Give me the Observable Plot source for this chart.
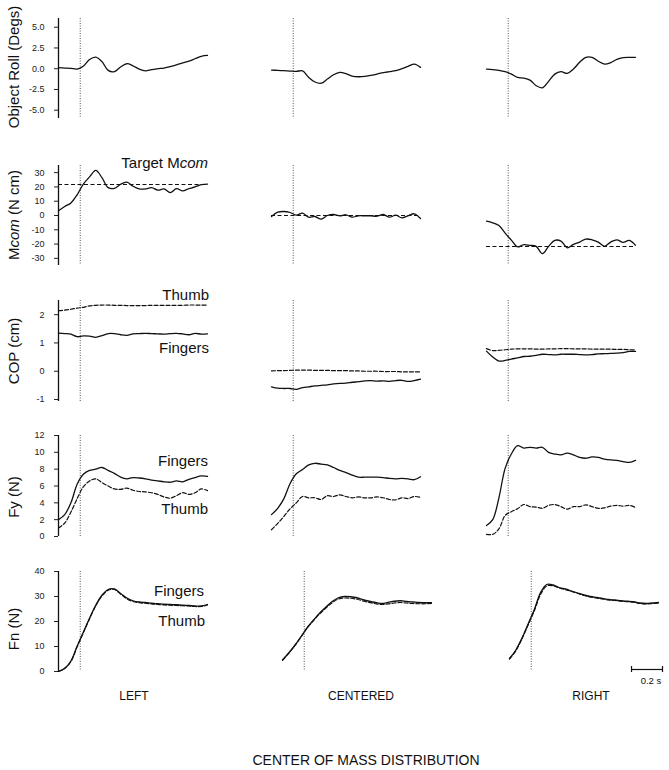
<!DOCTYPE html>
<html>
<head>
<meta charset="utf-8">
<script src="https://cdn.jsdelivr.net/npm/d3@7"></script>
<script src="https://cdn.jsdelivr.net/npm/@observablehq/plot@0.6"></script>
<style>
  html, body { margin: 0; padding: 0; background: #fff; }
  #fig { position: relative; width: 669px; height: 770px; overflow: hidden;
         font-family: "Liberation Sans", Arial, sans-serif; color: #111; }
  .lab { position: absolute; white-space: nowrap; line-height: 1; }
</style>
</head>
<body>
<div id="fig"></div>
<script>
// ---------------- data ----------------
// time relative to lift-off (s), common sampling grid
const time = [-0.14,-0.10,-0.06,-0.02,0.02,0.06,0.10,0.14,0.18,0.22,0.26,0.30,0.34,0.38,0.42,0.46,0.50,0.54,0.58,0.62,0.66,0.70,0.74,0.78,0.82];
const liftOff = [0];
const conditions = ["LEFT", "CENTERED", "RIGHT"];
const scaleBarSec = 0.2;

// Object roll (deg)
const rollLeft     = [0.12,0.08,0.04,-0.04,0.3,1.1,1.4,0.85,-0.2,-0.35,0.2,0.6,0.35,-0.05,-0.25,-0.1,0.0,0.08,0.24,0.45,0.7,0.9,1.2,1.5,1.6];
const rollCentered = [-0.16,-0.2,-0.24,-0.28,-0.32,-0.26,-1.05,-1.6,-1.75,-1.25,-0.73,-0.45,-0.6,-0.89,-0.97,-0.93,-0.8,-0.65,-0.48,-0.36,-0.24,0.0,0.28,0.56,0.16];
const rollRight    = [-0.04,-0.12,-0.2,-0.36,-0.65,-1.05,-1.13,-1.37,-2.05,-2.3,-1.53,-0.65,-0.36,-0.56,-0.04,0.77,1.37,1.37,0.9,0.56,0.73,1.13,1.33,1.37,1.37];

// Mcom (N cm) and target Mcom
const mcomLeft     = [3.3,6.3,8.8,14.5,22,27,31.6,26.5,19.5,19.0,21.9,23.3,20.5,18.6,18.6,19.5,17.7,18.6,16,18.8,17.2,18.8,20,21.6,21.9];
const mcomCentered = [-0.7,2.3,2.8,2.1,0.2,1.6,-1.2,-0.7,-2.6,0,0.7,-0.2,0.5,-1.2,-0.2,-0.2,-0.2,-0.5,0.7,-1.2,0.2,-1.6,-0.2,1.2,-2.1];
const mcomRight    = [-4,-5.1,-7,-12.3,-17.2,-22,-20.4,-20.9,-21.6,-26.7,-21.6,-17.4,-17.9,-22.6,-20.2,-18.6,-16.5,-17,-18.6,-21.6,-18.6,-17,-18.8,-17.4,-20.9];
const mcomTarget   = [21.7, 0, -21.7];

// COP (cm)
const copThumbLeft       = [2.14,2.16,2.19,2.23,2.26,2.31,2.33,2.34,2.34,2.33,2.33,2.32,2.32,2.32,2.32,2.33,2.33,2.33,2.33,2.33,2.33,2.34,2.34,2.34,2.34];
const copFingersLeft     = [1.35,1.33,1.31,1.22,1.25,1.24,1.2,1.26,1.33,1.33,1.29,1.27,1.32,1.33,1.34,1.33,1.32,1.31,1.33,1.34,1.32,1.29,1.34,1.31,1.32];
const copThumbCentered   = [0.01,0.02,0.02,0.03,0.04,0.04,0.04,0.03,0.03,0.03,0.02,0.02,0.02,0.01,0.01,0.0,0.0,0.0,-0.01,-0.01,-0.01,-0.02,-0.02,-0.02,-0.02];
const copFingersCentered = [-0.55,-0.6,-0.61,-0.61,-0.64,-0.58,-0.55,-0.52,-0.5,-0.48,-0.45,-0.43,-0.42,-0.39,-0.37,-0.34,-0.33,-0.35,-0.34,-0.36,-0.33,-0.32,-0.36,-0.33,-0.28];
const copThumbRight      = [0.8,0.73,0.74,0.76,0.78,0.79,0.79,0.79,0.78,0.78,0.79,0.79,0.8,0.8,0.79,0.79,0.79,0.78,0.78,0.78,0.78,0.77,0.77,0.76,0.75];
const copFingersRight    = [0.71,0.5,0.36,0.38,0.43,0.47,0.52,0.53,0.56,0.6,0.59,0.58,0.6,0.6,0.6,0.59,0.58,0.59,0.61,0.62,0.63,0.64,0.66,0.7,0.7];

// Fy (N)
const fyFingersLeft     = [2.0,2.6,4.0,6.2,7.4,7.85,8.0,8.2,7.85,7.5,7.05,6.85,7.0,6.95,6.85,6.7,6.6,6.5,6.45,6.6,6.5,6.8,7.0,7.2,7.15];
const fyThumbLeft       = [1.0,1.6,2.9,4.5,5.9,6.6,6.85,6.4,6.0,5.65,5.6,5.75,5.5,5.35,5.3,5.2,5.0,4.7,4.55,4.85,5.2,5.0,5.2,5.65,5.45];
const fyFingersCentered = [2.6,3.35,4.5,6.3,7.45,7.95,8.5,8.7,8.6,8.5,8.2,7.85,7.6,7.3,7.05,7.05,7.05,7.05,7.0,6.9,6.85,6.9,6.85,6.75,7.1];
const fyThumbCentered   = [0.8,1.55,2.4,3.3,4.0,4.75,4.6,4.6,4.4,4.85,4.75,4.95,4.75,4.6,4.7,4.6,4.6,4.7,4.6,4.4,4.35,4.6,4.5,4.75,4.65];
const fyFingersRight    = [1.3,2.0,4.6,8.1,9.8,10.8,10.5,10.6,10.5,10.6,10.0,9.8,9.7,9.9,9.7,9.4,9.3,9.45,9.4,9.2,9.1,9.05,8.9,8.8,9.05];
const fyThumbRight      = [0.25,0.25,0.9,2.5,2.95,3.3,3.8,3.55,3.5,3.35,3.7,3.8,3.55,3.25,3.55,3.55,3.75,3.55,3.35,3.4,3.6,3.7,3.6,3.7,3.45];

// Fn (N)
const fnFingersLeft     = [0.0,1.3,4.2,10.1,15.7,21.3,26.5,30.5,32.8,33.0,31.2,29.4,28.3,27.8,27.6,27.3,27.1,26.9,26.8,26.7,26.5,26.4,26.2,26.2,26.8];
const fnThumbLeft       = [0.0,1.2,4.0,9.9,15.5,21.1,26.3,30.2,32.5,32.8,31.0,29.1,28.0,27.5,27.3,27.0,26.8,26.6,26.5,26.4,26.3,26.2,26.0,26.0,26.6];
const fnFingersCentered = [4.6,7.4,10.5,14.0,17.6,20.6,23.4,25.8,28.0,29.5,30.0,29.9,29.5,28.7,28.1,27.6,27.2,27.6,28.1,28.3,28.0,27.8,27.6,27.5,27.5];
const fnThumbCentered   = [4.5,7.3,10.4,13.9,17.5,20.4,23.1,25.4,27.5,29.0,29.4,29.3,28.9,28.2,27.6,27.1,26.8,27.0,27.4,27.6,27.4,27.2,27.1,27.1,27.2];
const fnFingersRight    = [5.2,8.5,13.3,19.0,24.8,31.6,34.8,34.6,33.6,33.0,32.2,31.4,30.6,30.0,29.6,29.2,28.8,28.6,28.3,28.1,27.9,27.4,27.2,27.4,27.6];
const fnThumbRight      = [5.0,8.2,13.0,18.6,24.3,30.8,34.2,34.3,33.4,32.8,32.0,31.2,30.4,29.8,29.4,29.0,28.6,28.4,28.1,27.9,27.7,27.2,27.0,27.2,27.4];

// axis tick values
const rollTicks = [-5, -2.5, 0, 2.5, 5];
const mcomTicks = [-30, -20, -10, 0, 10, 20, 30];
const copTicks  = [-1, 0, 1, 2];
const fyTicks   = [0, 2, 4, 6, 8, 10, 12];
const fnTicks   = [0, 10, 20, 30, 40];

// ---------------- layout / drawing ----------------
const fig = document.getElementById("fig");
const FONT = '"Liberation Sans", Arial, sans-serif';

function place(el, left, top) {
  el.style.position = "absolute";
  el.style.left = left + "px";
  el.style.top = top + "px";
  fig.appendChild(el);
}
function label(html, x, y, opts = {}) {
  const { size = 15, anchor = "center", rotate = false } = opts;
  const d = document.createElement("div");
  d.className = "lab";
  d.innerHTML = html;
  d.style.fontSize = size + "px";
  d.style.left = x + "px";
  d.style.top = y + "px";
  const tx = anchor === "end" ? "-100%" : anchor === "start" ? "0" : "-50%";
  d.style.transform = `translate(${tx},-50%)` + (rotate ? " rotate(-90deg)" : "");
  if (rotate) d.style.transformOrigin = "0 0";
  fig.appendChild(d);
  return d;
}
function rotLabel(html, cx, cy, size) {
  const d = document.createElement("div");
  d.className = "lab";
  d.innerHTML = html;
  d.style.fontSize = size + "px";
  d.style.left = cx + "px";
  d.style.top = cy + "px";
  d.style.transform = "translate(-50%,-50%) rotate(-90deg)";
  fig.appendChild(d);
}

const pts = (arr) => time.map((t, i) => ({ t, v: arr[i] }));
const fmt1 = (d) => d.toFixed(1);
const fmt0 = (d) => String(d);

const rows = [
  { top: 18,  h: 100, domain: [-6, 6.05],   ticks: rollTicks, fmt: fmt1,
    solid: [rollLeft, rollCentered, rollRight] },
  { top: 165, h: 100, domain: [-35, 35],    ticks: mcomTicks, fmt: fmt0,
    solid: [mcomLeft, mcomCentered, mcomRight], target: mcomTarget },
  { top: 300, h: 101, domain: [-1.07, 2.5], ticks: copTicks,  fmt: fmt0,
    solid: [copFingersLeft, copFingersCentered, copFingersRight],
    dashed: [copThumbLeft, copThumbCentered, copThumbRight] },
  { top: 435, h: 101, domain: [0, 12],      ticks: fyTicks,   fmt: fmt0,
    solid: [fyFingersLeft, fyFingersCentered, fyFingersRight],
    dashed: [fyThumbLeft, fyThumbCentered, fyThumbRight] },
  { top: 571, h: 100, domain: [0, 40],      ticks: fnTicks,   fmt: fmt0,
    solid: [fnFingersLeft, fnFingersCentered, fnFingersRight],
    dashed: [fnThumbLeft, fnThumbCentered, fnThumbRight] }
];
const colX = [[58, 271, 486], [58, 271, 486], [58, 271, 486], [58, 271, 486], [58, 282, 509]];
const W = 149;

rows.forEach((row, r) => {
  for (let c = 0; c < 3; c++) {
    const mL = c === 0 ? 58 : 4, mR = 4, mT = 4, mB = 4;
    const marks = [];
    if (c === 0) marks.push(Plot.ruleX([time[0]], { stroke: "#111", strokeWidth: 1.3 }));
    marks.push(Plot.ruleX(liftOff, { stroke: "#555", strokeWidth: 1, strokeDasharray: "1,1.5" }));
    if (row.target) marks.push(Plot.ruleY([row.target[c]], { stroke: "#111", strokeWidth: 1.2, strokeDasharray: "4,2.5" }));
    if (row.dashed) marks.push(Plot.line(pts(row.dashed[c]), {
      x: "t", y: "v", curve: "catmull-rom", stroke: "#111", strokeWidth: 1.2, strokeDasharray: "4,2"
    }));
    marks.push(Plot.line(pts(row.solid[c]), {
      x: "t", y: "v", curve: "catmull-rom", stroke: "#111", strokeWidth: 1.3
    }));
    const svg = Plot.plot({
      width: mL + W + mR, height: mT + row.h + mB,
      marginLeft: mL, marginRight: mR, marginTop: mT, marginBottom: mB,
      x: { domain: [time[0], time[time.length - 1]], axis: null },
      y: { domain: row.domain, axis: c === 0 ? "left" : null, ticks: row.ticks,
           tickFormat: row.fmt, tickSize: 4, tickPadding: 10, label: null },
      style: { background: "transparent", overflow: "visible", fontFamily: FONT,
               fontSize: "9px", color: "#222" },
      marks
    });
    place(svg, colX[r][c] - mL, row.top - mT);
  }
});

// scale bar (0.2 s)
const pxPerSec = W / (time[time.length - 1] - time[0]);
const sb = Plot.plot({
  width: scaleBarSec * pxPerSec + 10, height: 10,
  marginLeft: 5, marginRight: 5, marginTop: 2, marginBottom: 2,
  x: { domain: [0, scaleBarSec], axis: null },
  y: { domain: [-1, 1], axis: null },
  style: { background: "transparent", overflow: "visible" },
  marks: [
    Plot.ruleY([{ y: 0, x1: 0, x2: scaleBarSec }], { y: "y", x1: "x1", x2: "x2", stroke: "#111", strokeWidth: 1.2 }),
    Plot.ruleX([0, scaleBarSec], { stroke: "#111", strokeWidth: 1.2 })
  ]
});
place(sb, 631 - 5, 669 - 5);
label(scaleBarSec + " s", 651, 681, { size: 9.5 });

// y-axis titles
rotLabel("Object Roll (Degs)", 13, 67, 15);
rotLabel("M<i>com</i> (N cm)", 13, 215, 15);
rotLabel("COP (cm)", 13, 351, 15);
rotLabel("Fy (N)", 13, 497, 15);
rotLabel("Fn (N)", 13, 629, 15);

// in-panel annotations
label("Target M<i>com</i>", 208, 162, { anchor: "end" });
label("Thumb", 209, 294, { anchor: "end" });
label("Fingers", 209, 347, { anchor: "end" });
label("Fingers", 208, 460, { anchor: "end" });
label("Thumb", 208, 508, { anchor: "end" });
label("Fingers", 204, 590, { anchor: "end" });
label("Thumb", 205, 620, { anchor: "end" });

// column labels and overall title
const colLabelX = [134, 361, 591];
conditions.forEach((name, i) => label(name, colLabelX[i], 696, { size: 12 }));
label("CENTER OF MASS DISTRIBUTION", 366, 760, { size: 14 });
</script>
</body>
</html>
